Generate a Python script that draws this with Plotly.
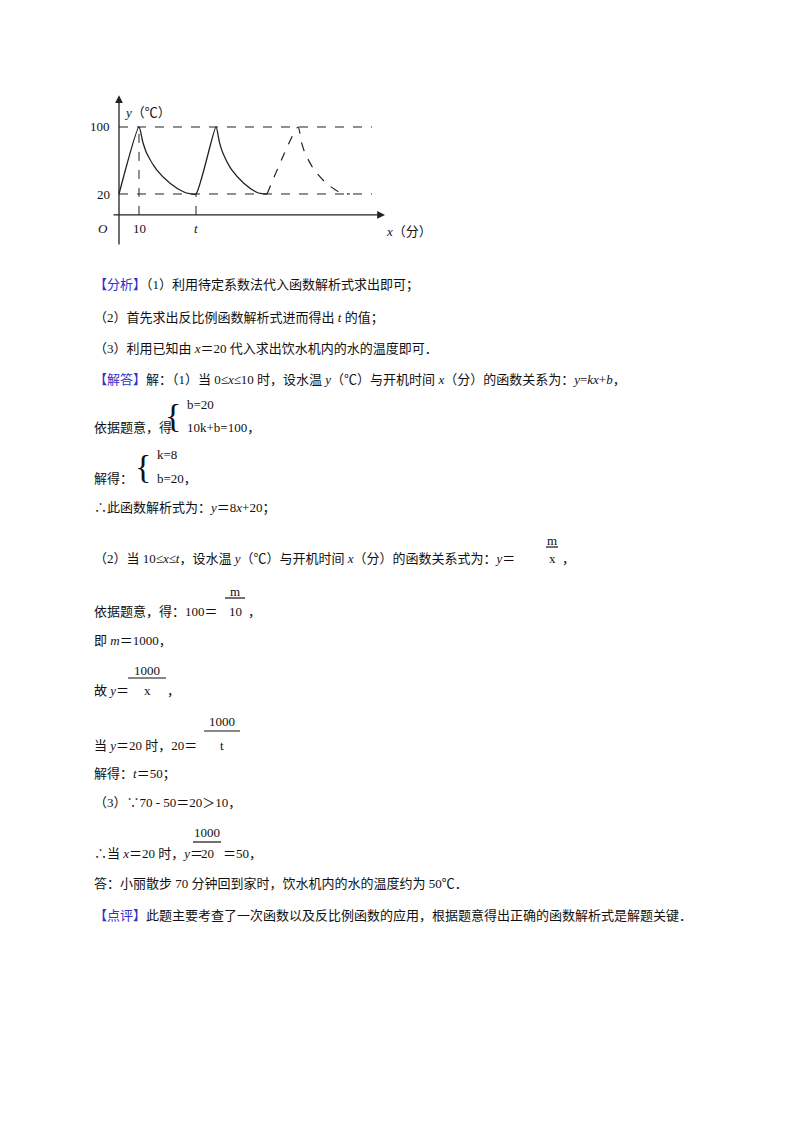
import plotly.graph_objects as go

W, H = 800, 1132
OFF = 8  # page body offset
# schematic chart data (x in schematic minutes, y in ℃)
solid_x = [0, 10, 11.9, 13.85, 18.85, 25.5, 32.15, 35.5, 38.5, 48.5, 50.2, 52.0, 56.4, 62.4, 68.3, 71.5, 74]
solid_y = [20, 100, 82, 68.6, 48.7, 32.8, 22.7, 20.3, 20, 100, 82, 68.6, 48.7, 32.8, 22.7, 20.3, 20]
dash_x = [74, 89.5, 91.2, 93.0, 97.6, 103.6, 109.8, 113, 115.5]
dash_y = [20, 100, 82, 68.6, 48.7, 32.8, 22.7, 20.3, 20]
ref_levels = [20, 100]
x_marks = [10, 38.5]
x_tick_labels = ["10", "<i>t</i>"]

def px(x): return (x - OFF) / W
def py(y): return 1 - (y - OFF) / H

fig = go.Figure()
fig.add_trace(go.Scatter(x=solid_x, y=solid_y, mode="lines",
                         line=dict(color="#222", width=1.3, shape="spline", smoothing=0.6)))
fig.add_trace(go.Scatter(x=dash_x, y=dash_y, mode="lines",
                         line=dict(color="#222", width=1.2, dash="dash", shape="spline", smoothing=0.6)))
for lv in ref_levels:
    fig.add_trace(go.Scatter(x=[0, 126.5], y=[lv, lv], mode="lines",
                             line=dict(color="#222", width=1, dash="dash")))
for xm, top in zip(x_marks, [100, 20]):
    fig.add_trace(go.Scatter(x=[xm, xm], y=[-5, top], mode="lines",
                             line=dict(color="#222", width=1, dash="dash")))

fig.add_annotation(x=133, y=-5, ax=-3.5, ay=-5, xref="x", yref="y", axref="x", ayref="y",
                   showarrow=True, arrowhead=2, arrowsize=1.2, arrowwidth=1.3, arrowcolor="#222", text="")
fig.add_annotation(x=0, y=138, ax=0, ay=-42, xref="x", yref="y", axref="x", ayref="y",
                   showarrow=True, arrowhead=2, arrowsize=1.2, arrowwidth=1.3, arrowcolor="#222", text="")

fs = 13
FAM = "Liberation Serif, Noto Sans CJK SC"
def T(x, y, s, anchor="left", size=fs, color="#111"):
    fig.add_annotation(x=px(x), y=py(y), xref="paper", yref="paper", text=s, showarrow=False,
                       xanchor=anchor, yanchor="middle",
                       font=dict(family=FAM, size=size, color=color))

T(112, 127, "100", "right")
T(112, 194, "20", "right")
T(110, 228, "<i>O</i>", "right")
for xm, lab in zip(x_marks, x_tick_labels):
    fig.add_annotation(x=xm, y=-5, xref="x", yref="y", text=lab, showarrow=False, yanchor="top", yshift=-4,
                       font=dict(family=FAM, size=fs, color="#111"))
T(384, 231, "<i>x</i>（分）")
T(122, 113, "<i>y</i>（℃）")

B = "#3030c8"
def frac(cx, num, den, ytop, ybar, ybot, half):
    T(cx, ytop, num, "center")
    T(cx, ybot, den, "center")
    fig.add_shape(type="line", xref="paper", yref="paper", x0=px(cx - half), x1=px(cx + half),
                  y0=py(ybar), y1=py(ybar), line=dict(color="#111", width=1.2))

L = 92
T(L, 285, f"<span style='color:{B}'>【分析】</span>（1）利用待定系数法代入函数解析式求出即可；")
T(L, 318, "（2）首先求出反比例函数解析式进而得出 <i>t</i> 的值；")
T(L, 349, "（3）利用已知由 <i>x</i>＝20 代入求出饮水机内的水的温度即可．")
T(L, 379, f"<span style='color:{B}'>【解答】</span>解：（1）当 0≤<i>x</i>≤10 时，设水温 <i>y</i>（℃）与开机时间 <i>x</i>（分）的函数关系为：<i>y</i>=<i>kx</i>+<i>b</i>，")
T(L, 428, "依据题意，得")
T(183, 415, "{", "right", size=34)
T(185, 404, "b=20")
T(185, 428, "10k+b=100，")
T(L, 478, "解得：")
T(153, 466, "{", "right", size=34)
T(155, 455, "k=8")
T(155, 478, "b=20，")
T(L, 508, "∴此函数解析式为：<i>y</i>＝8<i>x</i>+20；")
T(L, 558, "（2）当 10≤<i>x</i>≤<i>t</i>，设水温 <i>y</i>（℃）与开机时间 <i>x</i>（分）的函数关系式为：<i>y</i>＝")
frac(552, "m", "x", 540, 547, 558, 6)
T(560, 558, "，")
T(L, 611, "依据题意，得：100＝")
frac(235, "m", "10", 591, 598, 611, 10)
T(246, 611, "，")
T(L, 640, "即 <i>m</i>＝1000，")
T(L, 690, "故 <i>y</i>＝")
frac(147, "1000", "x", 670, 678, 690, 19)
T(165, 690, "，")
T(L, 745, "当 <i>y</i>＝20 时，20＝")
frac(222, "1000", "t", 721, 731, 745, 18)
T(L, 774, "解得：<i>t</i>＝50；")
T(L, 802, "（3）∵70 - 50＝20＞10，")
T(L, 853, "∴当 <i>x</i>＝20 时，<i>y</i>＝")
frac(207, "1000", "20", 832, 842, 853, 14)
T(221, 853, "＝50，")
T(L, 884, "答：小丽散步 70 分钟回到家时，饮水机内的水的温度约为 50℃．")
T(L, 915, f"<span style='color:{B}'>【点评】</span>此题主要考查了一次函数以及反比例函数的应用，根据题意得出正确的函数解析式是解题关键．")

fig.update_layout(
    width=W, height=H, margin=dict(l=0, r=0, t=0, b=0), showlegend=False,
    plot_bgcolor="white", paper_bgcolor="white", font=dict(family=FAM, size=fs, color="#111"),
    xaxis=dict(domain=[px(100), px(400)], range=[-9.5, 140.5], visible=False, fixedrange=True),
    yaxis=dict(domain=[py(250), py(95)], range=[-46.9, 138.2], visible=False, fixedrange=True),
)
fig.write_html("out.html")
